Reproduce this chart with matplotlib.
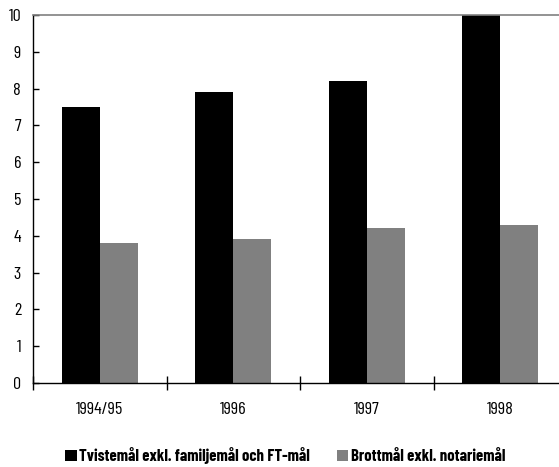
import matplotlib
matplotlib.use("Agg")
import matplotlib.pyplot as plt
import numpy as np
from matplotlib.patches import Patch

plt.rcParams['font.family'] = ['Barlow Condensed', 'DejaVu Sans']

categories = ["1994/95", "1996", "1997", "1998"]
tvistemal = [7.5, 7.9, 8.2, 10.0]
brottmal = [3.8, 3.9, 4.2, 4.3]
series_names = ["Tvistemål exkl. familjemål och FT-mål", "Brottmål exkl. notariemål"]
yticks = list(range(0, 11))

fig = plt.figure(figsize=(5.59, 4.67), dpi=100)
ax = fig.add_axes([33/559, 1 - 383/467, 534/559, 368/467])

x = np.arange(len(categories))
w = 0.285
ax.bar(x - w/2, tvistemal, width=w, color="black", zorder=2)
ax.bar(x + w/2, brottmal, width=w, color="#808080", zorder=2)

ax.set_xlim(-0.5, len(categories) - 0.5)
ax.set_ylim(0, 10)

ax.set_yticks(yticks)
ax.set_yticklabels([str(v) for v in yticks], fontsize=13)
ax.tick_params(axis='y', direction='in', length=4, width=1, pad=8.5)

ax.set_xticks(np.arange(len(categories) + 1) - 0.5)
ax.set_xticklabels([])
ax.set_xticks(x, minor=True)
ax.set_xticklabels(categories, minor=True, fontsize=13)
ax.tick_params(axis='x', which='major', direction='inout', length=10, width=1)
ax.tick_params(axis='x', which='minor', length=0, pad=13.5)

ax.spines['right'].set_visible(False)
ax.spines['top'].set_color('#808080')
ax.spines['top'].set_linewidth(1.2)
ax.spines['left'].set_linewidth(1)
ax.spines['bottom'].set_linewidth(1)

handles = [Patch(facecolor="black"), Patch(facecolor="#808080")]
leg = fig.legend(handles, series_names, loc='center', bbox_to_anchor=(285/559, 1 - 456/467),
                 ncol=2, frameon=False, handlelength=0.7, handleheight=0.7,
                 handletextpad=0.15, columnspacing=1.6, borderpad=0, borderaxespad=0,
                 prop={'weight': 'bold', 'size': 12})

fig.savefig("out.png", dpi=100)
